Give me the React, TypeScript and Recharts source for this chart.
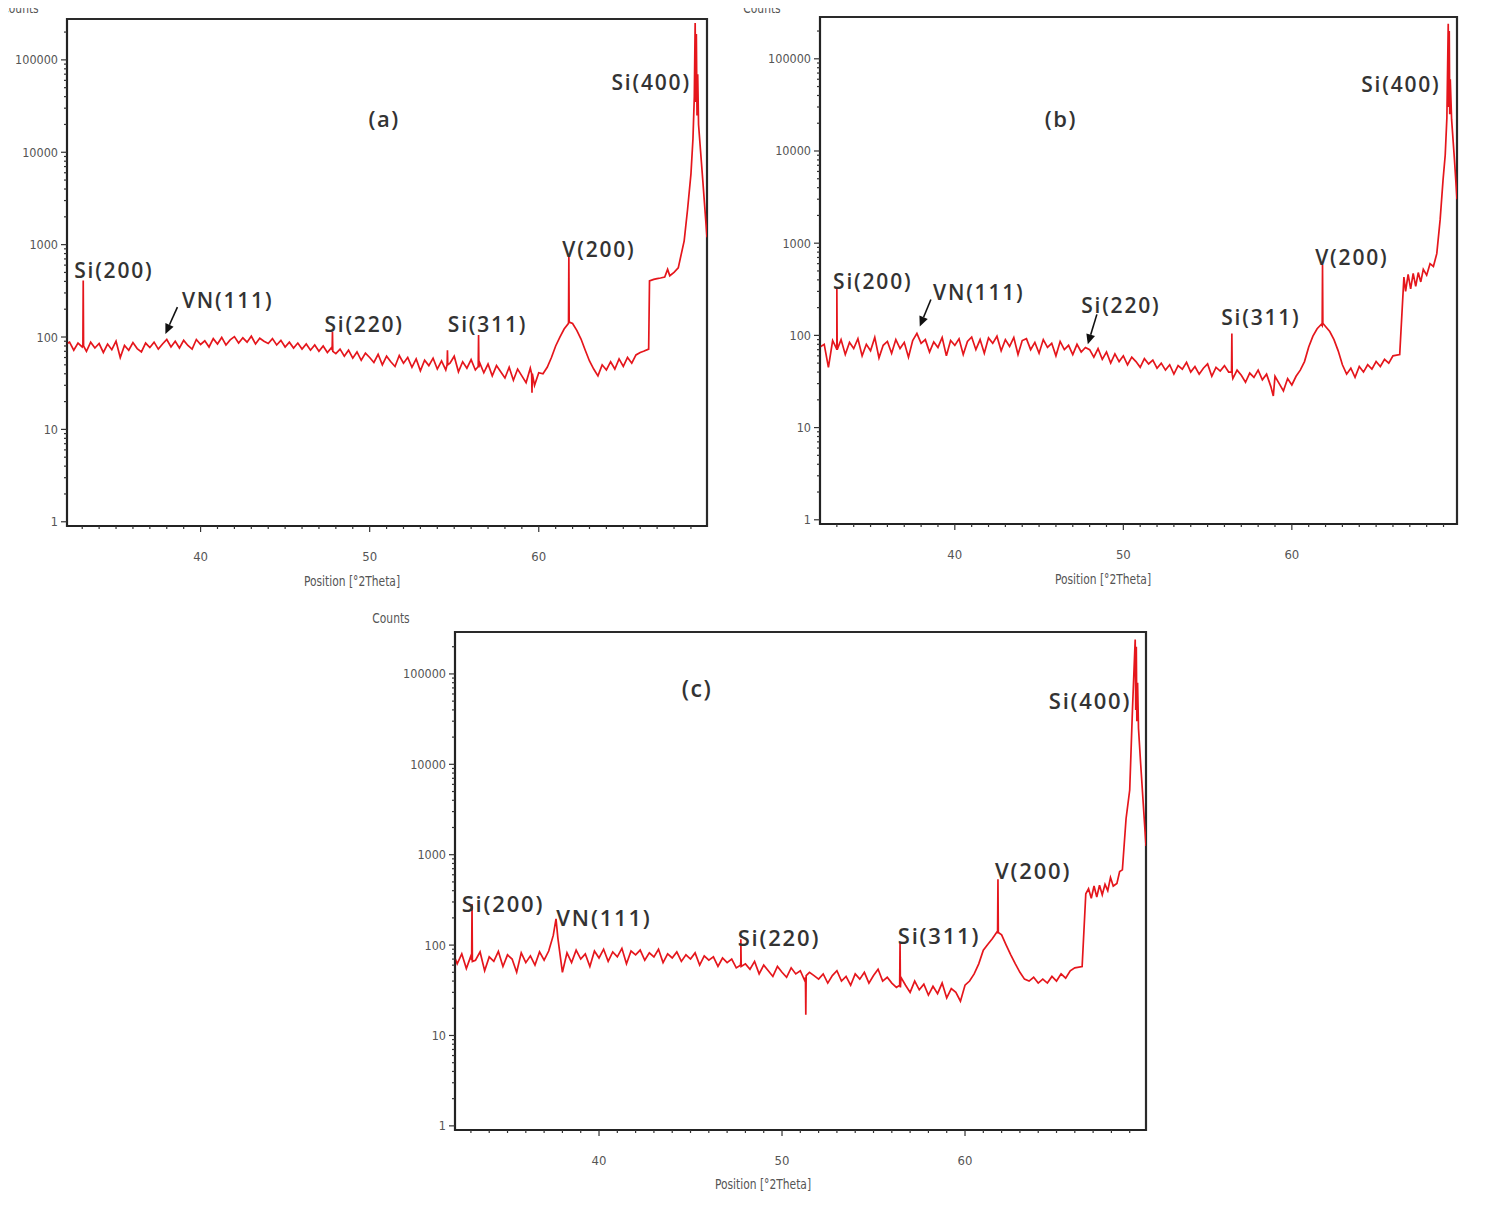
import React from "react";
import {
  Line,
  LineChart,
  ReferenceArea,
  ReferenceDot,
  ReferenceLine,
  XAxis,
  YAxis,
} from "recharts";

// background scan grid, 0.25 deg steps
const angles = [
  32.25, 32.5, 32.75, 33, 33.25, 33.5, 33.75, 34,
  34.25, 34.5, 34.75, 35, 35.25, 35.5, 35.75, 36,
  36.25, 36.5, 36.75, 37, 37.25, 37.5, 37.75, 38,
  38.25, 38.5, 38.75, 39, 39.25, 39.5, 39.75, 40,
  40.25, 40.5, 40.75, 41, 41.25, 41.5, 41.75, 42,
  42.25, 42.5, 42.75, 43, 43.25, 43.5, 43.75, 44,
  44.25, 44.5, 44.75, 45, 45.25, 45.5, 45.75, 46,
  46.25, 46.5, 46.75, 47, 47.25, 47.5, 47.75, 48,
  48.25, 48.5, 48.75, 49, 49.25, 49.5, 49.75, 50,
  50.25, 50.5, 50.75, 51, 51.25, 51.5, 51.75, 52,
  52.25, 52.5, 52.75, 53, 53.25, 53.5, 53.75, 54,
  54.25, 54.5, 54.75, 55, 55.25, 55.5, 55.75, 56,
  56.25, 56.5, 56.75, 57, 57.25, 57.5, 57.75, 58,
  58.25, 58.5, 58.75, 59, 59.25, 59.5, 59.75, 60,
  60.25, 60.5, 60.75, 61, 61.25, 61.5, 61.75, 62,
  62.25, 62.5, 62.75, 63, 63.25, 63.5, 63.75, 64,
  64.25, 64.5, 64.75, 65, 65.25, 65.5, 65.75, 66,
];

const countsA = [
  88, 72, 86, 78, 70, 88, 76, 85,
  68, 84, 73, 90, 60, 81, 72, 87,
  75, 69, 86, 77, 88, 74, 84, 94,
  78, 90, 76, 92, 81, 74, 94, 83,
  91, 78, 96, 84, 99, 82, 93, 101,
  86, 98, 88, 102, 84, 97, 90, 85,
  96, 82, 92, 78, 88, 76, 86, 74,
  84, 72, 82, 70, 80, 68, 77, 66,
  74, 62, 72, 59, 69, 56, 67, 60,
  53, 65, 50, 62, 54, 48, 63, 52,
  60, 47, 58, 43, 56, 49, 59, 45,
  55, 44, 52, 62, 42, 54, 46, 57,
  44, 53, 41, 51, 38, 49, 42, 36,
  47, 34, 45, 38, 32, 46, 30, 41,
  40, 47, 60, 80, 100, 122, 140, 140,
  118, 95, 72, 55, 45, 38, 50, 44,
  54, 45, 58, 48, 60, 52, 64, 68,
];

const countsB = [
  80, 45, 88, 70, 90, 62, 84, 72,
  92, 60, 80, 68, 95, 57, 78, 86,
  64, 90, 72, 84, 58, 88, 105, 82,
  90, 66, 85, 74, 95, 60, 88, 78,
  92, 62, 86, 96, 70, 90, 64, 94,
  82, 98, 68, 90, 76, 95, 62, 88,
  92, 70, 84, 64, 90, 74, 82, 60,
  86, 70, 78, 62, 80, 66, 74, 70,
  58, 72, 55, 66, 50, 63, 52, 60,
  48, 58, 52, 45, 56, 49, 54, 44,
  50, 42, 48, 38, 47, 43, 51, 40,
  46, 38, 44, 49, 36, 45, 41, 47,
  40, 34, 42, 37, 31, 39, 35, 42,
  33, 38, 28, 36, 30, 25, 34, 29,
  36, 42, 52, 75, 98, 118, 132, 125,
  110, 90, 68, 48, 38, 44, 35, 46,
  40, 48, 43, 52, 46, 55, 50, 60,
];

const countsC = [
  62, 80, 55, 76, 68, 84, 52, 74,
  66, 85, 58, 78, 70, 50, 82, 64,
  76, 60, 84, 68, 86, 128, 120, 50,
  82, 64, 88, 70, 80, 58, 86, 72,
  90, 66, 84, 74, 92, 62, 86, 78,
  88, 68, 82, 74, 90, 64, 80, 72,
  84, 66, 78, 70, 82, 60, 76, 68,
  74, 58, 72, 64, 70, 56, 66, 62,
  54, 66, 48, 60, 52, 45, 58, 50,
  44, 56, 48, 52, 40, 50, 46, 42,
  48, 38, 46, 52, 40, 45, 36, 48,
  42, 50, 38, 46, 54, 40, 44, 38,
  34, 44, 36, 30, 40, 32, 37, 28,
  35, 29, 38, 26, 33, 30, 24, 36,
  40, 48, 62, 88, 102, 118, 140, 130,
  100, 78, 62, 50, 42, 40, 44, 38,
  42, 38, 45, 40, 48, 43, 52, 56,
];

// sharp reflections, dips and the Si(400) region
const peaksA: [number, number][] = [
  [32.1, 85], [33.04, 82], [33.06, 410], [33.08, 80],
  [47.78, 72], [47.8, 115], [47.82, 70],
  [54.58, 50], [54.6, 72], [54.62, 50],
  [56.42, 48], [56.44, 105], [56.46, 47],
  [59.58, 40], [59.6, 25], [59.62, 40],
  [61.76, 142], [61.78, 750], [61.8, 145],
  [66.2, 70], [66.5, 74], [66.55, 405], [66.8, 420], [67.0, 428],
  [67.2, 435], [67.45, 445], [67.62, 540], [67.75, 460], [68.0, 500],
  [68.25, 560], [68.6, 1100], [68.8, 2400], [69.0, 5800], [69.12, 14000],
  [69.2, 40000], [69.25, 250000], [69.29, 35000], [69.32, 190000],
  [69.36, 25000], [69.4, 70000], [69.45, 20000], [69.7, 5000], [69.95, 1200],
];

const peaksB: [number, number][] = [
  [32.0, 75], [32.98, 72], [33.0, 320], [33.02, 70],
  [56.42, 40], [56.44, 105], [56.46, 38],
  [58.9, 22],
  [61.8, 128], [61.82, 580], [61.84, 135],
  [66.4, 62], [66.65, 430], [66.75, 300], [66.9, 460], [67.05, 320],
  [67.2, 470], [67.35, 340], [67.5, 480], [67.65, 380], [67.8, 520],
  [68.0, 450], [68.2, 600], [68.4, 560], [68.6, 770], [68.8, 1800],
  [68.97, 4800], [69.1, 9000], [69.2, 23000], [69.28, 240000],
  [69.31, 30000], [69.34, 200000], [69.37, 25000], [69.4, 60000],
  [69.48, 22000], [69.65, 8000], [69.8, 3000],
];

const peaksC: [number, number][] = [
  [32.15, 70], [33.04, 68], [33.06, 285], [33.08, 66],
  [37.65, 195],
  [47.73, 60], [47.75, 116], [47.77, 58],
  [51.28, 44], [51.3, 17], [51.32, 46],
  [56.43, 36], [56.45, 108], [56.47, 34],
  [61.78, 135], [61.8, 535], [61.82, 138],
  [66.4, 58], [66.6, 370], [66.75, 420], [66.9, 330], [67.05, 450],
  [67.2, 340], [67.35, 460], [67.5, 360], [67.65, 470], [67.8, 400],
  [67.95, 560], [68.1, 450], [68.3, 480], [68.45, 650], [68.6, 680],
  [68.8, 2500], [69.0, 5200], [69.15, 40000], [69.3, 240000],
  [69.33, 40000], [69.36, 200000], [69.39, 30000], [69.43, 80000],
  [69.48, 25000], [69.6, 10000], [69.89, 1250],
];

type Note = { text: string; angle: number; counts: number };

const notesA: Note[] = [
  { text: "Si(200)", angle: 34.87, counts: 529 },
  { text: "VN(111)", angle: 41.6, counts: 251 },
  { text: "Si(220)", angle: 49.67, counts: 138 },
  { text: "Si(311)", angle: 56.97, counts: 138 },
  { text: "V(200)", angle: 63.56, counts: 894 },
  { text: "Si(400)", angle: 66.65, counts: 57800 },
];

const notesB: Note[] = [
  { text: "Si(200)", angle: 35.13, counts: 393 },
  { text: "VN(111)", angle: 41.42, counts: 299 },
  { text: "Si(220)", angle: 49.85, counts: 216 },
  { text: "Si(311)", angle: 58.16, counts: 157 },
  { text: "V(200)", angle: 63.56, counts: 716 },
  { text: "Si(400)", angle: 66.47, counts: 53600 },
];

const notesC: Note[] = [
  { text: "Si(200)", angle: 34.75, counts: 291 },
  { text: "VN(111)", angle: 40.27, counts: 204 },
  { text: "Si(220)", angle: 49.83, counts: 122 },
  { text: "Si(311)", angle: 58.58, counts: 129 },
  { text: "V(200)", angle: 63.72, counts: 673 },
  { text: "Si(400)", angle: 66.83, counts: 52000 },
];

type Arrow = { from: [number, number]; to: [number, number] };

const arrowsA: Arrow[] = [{ from: [38.63, 211], to: [37.92, 108] }];
const arrowsB: Arrow[] = [
  { from: [38.58, 245], to: [37.92, 125] },
  { from: [48.43, 169], to: [47.89, 80] },
];

const xTicks = [
  33, 34, 35, 36, 37, 38, 39, 40, 41, 42, 43, 44, 45, 46, 47, 48, 49, 50,
  51, 52, 53, 54, 55, 56, 57, 58, 59, 60, 61, 62, 63, 64, 65, 66, 67, 68, 69,
];
const xMajor = [40, 50, 60];
const yMajor = [1, 10, 100, 1000, 10000, 100000];
const yTicks = yMajor.flatMap((d) =>
  [1, 2, 3, 4, 5, 6, 7, 8, 9].map((k) => k * d)
).concat([1000000]);

const RED = "#e5161c";
const TICK_FONT = "'Liberation Sans Narrow', 'DejaVu Sans Condensed', 'Liberation Sans', sans-serif";
const NOTE_FONT = "'Open Sans', 'Noto Sans', sans-serif";

function buildScan(background: number[], extra: [number, number][]) {
  const rows = angles.map((angle, i) => ({ angle, counts: background[i] }));
  extra.forEach(([angle, counts]) => rows.push({ angle, counts }));
  return rows.sort((a, b) => a.angle - b.angle);
}

const XTick = (props: any) => {
  const { x, y, payload } = props;
  const major = xMajor.includes(payload.value);
  return (
    <g>
      <line x1={x} x2={x} y1={y} y2={y + (major ? 6 : 3)} stroke="#333" strokeWidth={1.2} />
      {major && (
        <text x={x} y={y + 30} textAnchor="middle" dominantBaseline="central"
          fontSize={13} fill="#555" fontFamily={TICK_FONT}>
          {payload.value}
        </text>
      )}
    </g>
  );
};

const YTick = (props: any) => {
  const { x, y, payload } = props;
  const major = yMajor.includes(payload.value);
  return (
    <g>
      <line x1={x - (major ? 6 : 3)} x2={x} y1={y} y2={y} stroke="#333" strokeWidth={1.2} />
      {major && (
        <text x={x - 9} y={y} textAnchor="end" dominantBaseline="central"
          fontSize={12.5} fill="#555" fontFamily={TICK_FONT}>
          {payload.value}
        </text>
      )}
    </g>
  );
};

const ArrowShape = (props: any) => {
  const { x1, y1, x2, y2 } = props;
  const a = Math.atan2(y2 - y1, x2 - x1);
  const len = 10;
  const w = 4.5;
  const bx = x2 - len * Math.cos(a);
  const by = y2 - len * Math.sin(a);
  const px = -Math.sin(a) * w;
  const py = Math.cos(a) * w;
  return (
    <g>
      <line x1={x1} y1={y1} x2={bx} y2={by} stroke="#111" strokeWidth={1.6} />
      <polygon points={`${x2},${y2} ${bx + px},${by + py} ${bx - px},${by - py}`} fill="#111" />
    </g>
  );
};

type PanelProps = {
  rows: { angle: number; counts: number }[];
  notes: Note[];
  arrows: Arrow[];
  tag: string;
  tagAt: [number, number];
  width: number;
  height: number;
  top: number;
  xDomain: [number, number];
  yDomain: [number, number];
  noteSize: number;
};

function XrdPanel({ rows, notes, arrows, tag, tagAt, width, height, top, xDomain, yDomain, noteSize }: PanelProps) {
  const ticksY = yTicks.filter((t) => t >= yDomain[0] && t <= yDomain[1]);
  return (
    <LineChart width={width} height={height} data={rows}
      margin={{ top, right: 10, bottom: 5, left: 0 }}>
      <XAxis dataKey="angle" type="number" domain={xDomain} allowDataOverflow
        ticks={xTicks} interval={0} tick={<XTick />} tickLine={false}
        tickSize={0} tickMargin={0} height={40}
        axisLine={{ stroke: "#222", strokeWidth: 1.6 }} />
      <YAxis type="number" scale="log" domain={yDomain} allowDataOverflow
        ticks={ticksY} interval={0} tick={<YTick />} tickLine={false}
        tickSize={0} tickMargin={0} width={67}
        axisLine={{ stroke: "#222", strokeWidth: 1.6 }} />
      <ReferenceArea x1={xDomain[0]} x2={xDomain[1]} y1={yDomain[0]} y2={yDomain[1]}
        fill="none" fillOpacity={0} stroke="#2a2a2a" strokeWidth={2.2} />
      <Line dataKey="counts" type="linear" stroke={RED} strokeWidth={1.7}
        dot={false} isAnimationActive={false} />
      {notes.map((n) => (
        <ReferenceDot key={n.text} x={n.angle} y={n.counts} r={0}
          shape={(p: any) => (
            <text x={p.cx} y={p.cy} textAnchor="middle" dominantBaseline="central"
              fontSize={noteSize} fontWeight={600} letterSpacing={1.8}
              fill="#333" fontFamily={NOTE_FONT}>
              {n.text}
            </text>
          )} />
      ))}
      <ReferenceDot x={tagAt[0]} y={tagAt[1]} r={0}
        shape={(p: any) => (
          <text x={p.cx} y={p.cy} textAnchor="middle" dominantBaseline="central"
            fontSize={noteSize + 1} fontWeight={600} letterSpacing={1.5}
            fill="#333" fontFamily={NOTE_FONT}>
            {tag}
          </text>
        )} />
      {arrows.map((ar, i) => (
        <ReferenceLine key={i}
          segment={[{ x: ar.from[0], y: ar.from[1] }, { x: ar.to[0], y: ar.to[1] }]}
          shape={ArrowShape} />
      ))}
    </LineChart>
  );
}

const titleStyle: React.CSSProperties = {
  position: "absolute",
  fontFamily: TICK_FONT,
  fontSize: 14,
  color: "#555",
  whiteSpace: "nowrap",
  transform: "translateX(-50%) scaleX(0.85)",
};

export default function App() {
  const scanA = buildScan(countsA, peaksA);
  const scanB = buildScan(countsB, peaksB);
  const scanC = buildScan(countsC, peaksC);
  return (
    <div style={{ position: "relative", width: 1491, height: 1206, margin: -8, overflow: "hidden", background: "#fff" }}>
      <div style={{ position: "absolute", left: 0, top: 0 }}>
        <XrdPanel rows={scanA} notes={notesA} arrows={arrowsA} tag="(a)" tagAt={[50.86, 23600]}
          width={717} height={571} top={19} xDomain={[32.1, 69.95]} yDomain={[0.9, 277000]} noteSize={21} />
      </div>
      <div style={{ position: "absolute", left: 753, top: 0 }}>
        <XrdPanel rows={scanB} notes={notesB} arrows={arrowsB} tag="(b)" tagAt={[46.29, 23000]}
          width={714} height={569} top={17} xDomain={[32.0, 69.8]} yDomain={[0.9, 284000]} noteSize={21} />
      </div>
      <div style={{ position: "absolute", left: 388, top: 600 }}>
        <XrdPanel rows={scanC} notes={notesC} arrows={[]} tag="(c)" tagAt={[45.35, 69000]}
          width={768} height={575} top={32} xDomain={[32.13, 69.89]} yDomain={[0.9, 291000]} noteSize={22} />
      </div>
      <div style={{ ...titleStyle, left: 20, top: 0 }}>Counts</div>
      <div style={{ ...titleStyle, left: 762, top: 0 }}>Counts</div>
      <div style={{ ...titleStyle, left: 391, top: 610 }}>Counts</div>
      <div style={{ ...titleStyle, left: 352, top: 573 }}>Position [°2Theta]</div>
      <div style={{ ...titleStyle, left: 1103, top: 571 }}>Position [°2Theta]</div>
      <div style={{ ...titleStyle, left: 763, top: 1176 }}>Position [°2Theta]</div>
    </div>
  );
}
